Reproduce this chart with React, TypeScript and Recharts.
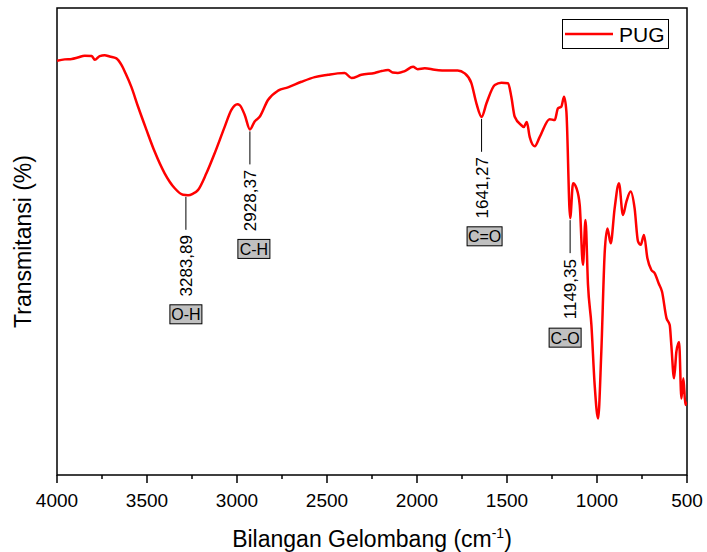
import React from "react";
import { ComposedChart, Line, Scatter, XAxis, YAxis, Legend, ReferenceArea } from "recharts";

// FTIR spectrum of PUG
const wavenumbers = [
  4000, 3957, 3918, 3885, 3846, 3807, 3790, 3763, 3735, 3707, 3670, 3642, 3618, 3587, 3550,
  3503, 3457, 3402, 3346, 3300, 3272, 3246, 3217, 3170, 3124, 3068, 3031, 2998, 2985, 2957,
  2928, 2902, 2874, 2828, 2772, 2717, 2642, 2568, 2494, 2441, 2402, 2364, 2309, 2235, 2196,
  2161, 2135, 2106, 2068, 2022, 1996, 1957, 1902, 1828, 1774, 1735, 1698, 1670, 1641, 1614,
  1568, 1531, 1494, 1476, 1457, 1420, 1407, 1390, 1374, 1346, 1318, 1263, 1235, 1217, 1198,
  1183, 1170, 1149, 1133, 1114, 1096, 1078, 1064, 1050, 1031, 1013, 994, 976, 957, 942,
  924, 902, 878, 856, 837, 813, 791, 772, 757, 739, 720, 698, 679, 657, 639,
  614, 596, 587, 572, 559, 544, 531, 520, 509, 501,
];
const transmittance = [
  88.7, 89.0, 89.1, 89.4, 89.8, 89.7, 88.9, 89.7, 89.9, 89.6, 89.2, 87.8, 85.9, 83.1, 78.9,
  73.9, 69.2, 64.6, 61.4, 60.0, 59.9, 60.2, 61.0, 64.6, 68.9, 74.6, 78.2, 79.4, 79.2, 77.1,
  74.0, 75.7, 76.7, 80.3, 82.3, 83.0, 84.2, 85.2, 85.7, 86.0, 86.1, 85.0, 85.7, 86.1, 86.5,
  86.7, 86.2, 86.1, 86.5, 87.4, 86.9, 87.1, 86.8, 86.6, 86.6, 86.0, 83.9, 79.6, 76.7, 79.6,
  83.5, 84.0, 83.9, 81.0, 76.7, 74.9, 74.5, 75.6, 72.4, 70.4, 72.4, 76.2, 76.0, 78.5, 78.9,
  81.0, 77.8, 55.0, 62.5, 61.4, 57.8, 45.0, 54.6, 40.7, 32.1, 19.3, 12.1, 26.4, 47.8, 52.8,
  49.6, 57.1, 62.5, 55.7, 58.5, 60.7, 57.1, 50.0, 49.3, 51.4, 46.4, 43.9, 43.2, 41.0, 39.3,
  33.6, 32.1, 27.8, 20.7, 26.4, 28.5, 16.4, 20.7, 15.0, 15.7,
];

const axisTicks = [4000, 3750, 3500, 3250, 3000, 2750, 2500, 2250, 2000, 1750, 1500, 1250, 1000, 750, 500];

const peakWavenumbers = [3283.89, 2928.37, 1641.27, 1149.35];
const peakTransmittance = [60.0, 74.0, 76.7, 55.0];
const peakLabels = ["3283,89", "2928,37", "1641,27", "1149,35"];
const peakGroups = ["O-H", "C-H", "C=O", "C-O"];

const spectrum = wavenumbers.map((w, i) => ({ w, t: transmittance[i] }));
const peaks = peakWavenumbers.map((w, i) => ({
  w,
  t: peakTransmittance[i],
  label: peakLabels[i],
  group: peakGroups[i],
}));

const FONT = "'Liberation Sans', Arial, sans-serif";
// small horizontal nudges of the grey group boxes, as placed in the original
const boxNudge: Record<string, number> = { "O-H": 0, "C-H": 4, "C=O": 3, "C-O": -5 };

function WaveTick(props: any) {
  const { x, y, payload } = props;
  const v = payload.value;
  const major = v % 500 === 0;
  const top = y - 8;
  return (
    <g>
      <line x1={x} x2={x} y1={top} y2={top + (major ? 8 : 4)} stroke="#000" strokeWidth={1.5} />
      {major && (
        <text x={x} y={top + 32} textAnchor="middle" fontSize={19} fill="#000" fontFamily={FONT}>
          {v}
        </text>
      )}
    </g>
  );
}

function PeakCallout(props: any) {
  const { cx, cy, payload } = props;
  if (cx == null || cy == null) return null;
  const bx = cx + (boxNudge[payload.group] ?? 0);
  const bw = payload.group === "C=O" ? 35 : 32;
  return (
    <g fontFamily={FONT}>
      <line x1={cx} x2={cx} y1={cy + 2} y2={cy + 35} stroke="#000" strokeWidth={1} />
      <text
        transform={`translate(${cx + 6},${cy + 71}) rotate(-90)`}
        textAnchor="middle"
        fontSize={17}
        fill="#000"
      >
        {payload.label}
      </text>
      <rect x={bx - bw / 2} y={cy + 110} width={bw} height={19} fill="#c0c0c0" stroke="#000" strokeWidth={1} />
      <text x={bx} y={cy + 125.5} textAnchor="middle" fontSize={16} fill="#000">
        {payload.group}
      </text>
    </g>
  );
}

function XTitle(props: any) {
  const vb = props.viewBox || { x: 57, y: 475, width: 630, height: 77 };
  return (
    <text x={vb.x + vb.width / 2} y={vb.y + 72} textAnchor="middle" fontSize={23} fill="#000" fontFamily={FONT}>
      <tspan>Bilangan Gelombang (cm</tspan>
      <tspan dy={-9} fontSize={14}>-1</tspan>
      <tspan dy={9}>)</tspan>
    </text>
  );
}

function YTitle(props: any) {
  const vb = props.viewBox || { x: 0, y: 8, width: 57, height: 467 };
  const cy = vb.y + vb.height / 2;
  return (
    <text
      transform={`translate(31,${cy}) rotate(-90)`}
      textAnchor="middle"
      fontSize={23}
      fill="#000"
      fontFamily={FONT}
    >
      Transmitansi (%)
    </text>
  );
}

function LegendBox() {
  return (
    <div style={{ width: 107, height: 30, border: "1px solid #000", background: "#fff", boxSizing: "border-box" }}>
      <svg width={105} height={28} style={{ display: "block" }}>
        <line x1={2} x2={50} y1={14} y2={14} stroke="#ff0000" strokeWidth={2.5} />
        <text x={56} y={21.5} fontSize={21} fill="#000" fontFamily={FONT}>
          PUG
        </text>
      </svg>
    </div>
  );
}

export default function App() {
  return (
    <div style={{ position: "absolute", left: 0, top: 0, width: 707, height: 552, background: "#fff" }}>
      <ComposedChart width={707} height={552} margin={{ top: 8, right: 20, bottom: 0, left: 0 }}>
        <XAxis
          dataKey="w"
          type="number"
          domain={[500, 4000]}
          reversed
          allowDataOverflow
          ticks={axisTicks}
          interval={0}
          tick={<WaveTick />}
          tickSize={8}
          tickMargin={0}
          tickLine={false}
          axisLine={false}
          height={77}
          label={{ content: (p: any) => <XTitle {...p} /> }}
        />
        <YAxis
          type="number"
          domain={[0, 100]}
          allowDataOverflow
          width={57}
          tick={false}
          tickLine={false}
          axisLine={false}
          label={{ content: (p: any) => <YTitle {...p} /> }}
        />
        <ReferenceArea x1={4000} x2={500} y1={0} y2={100} fill="none" stroke="#000" strokeWidth={1.5} ifOverflow="visible" />
        <Legend
          layout="vertical"
          align="center"
          verticalAlign="middle"
          wrapperStyle={{ top: 19, left: 562, width: 107, height: 30 }}
          content={() => <LegendBox />}
        />
        <Line
          data={spectrum}
          dataKey="t"
          name="PUG"
          type="monotone"
          stroke="#ff0000"
          strokeWidth={2.5}
          dot={false}
          activeDot={false}
          isAnimationActive={false}
        />
        <Scatter
          data={peaks}
          dataKey="t"
          legendType="none"
          isAnimationActive={false}
          shape={(p: any) => <PeakCallout {...p} />}
        />
      </ComposedChart>
    </div>
  );
}
